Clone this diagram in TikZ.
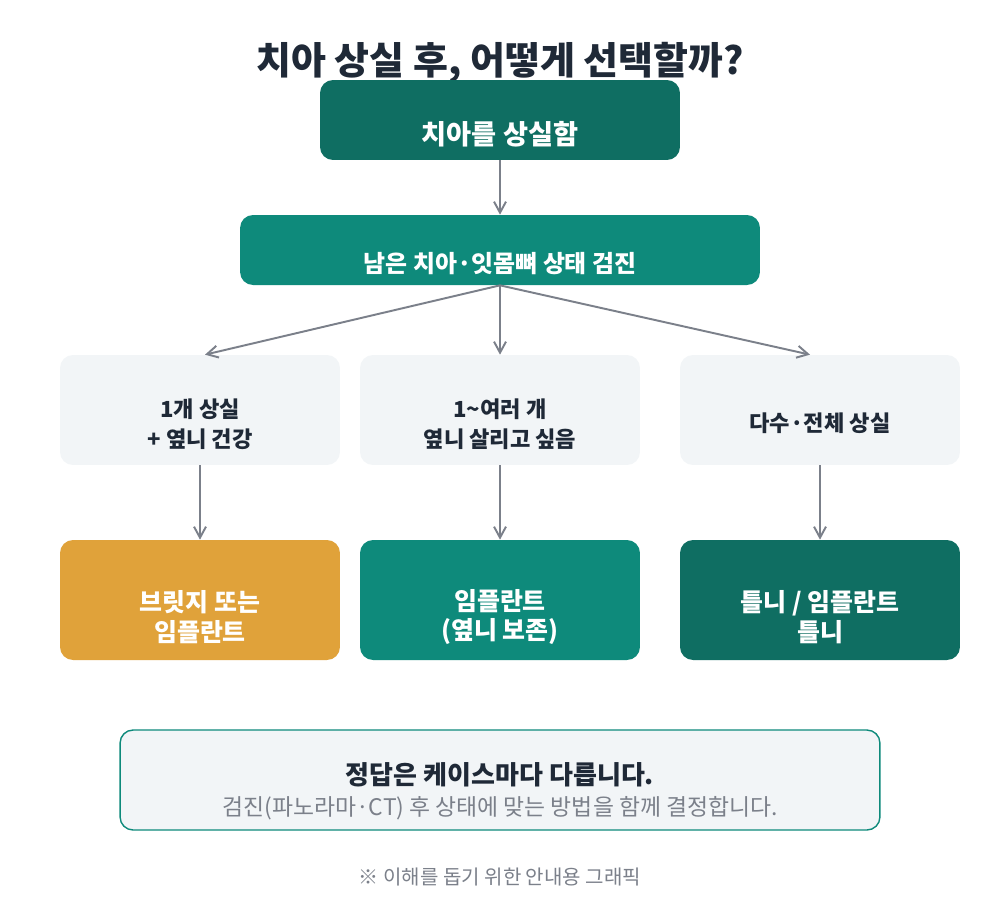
\documentclass[tikz,border=0pt]{standalone}
\usepackage{fontspec}
\setmainfont{Noto Sans CJK KR}
\usepackage{xcolor}
\usetikzlibrary{arrows.meta,positioning}
\definecolor{txdark}{HTML}{1F2937}
\definecolor{txmuted}{HTML}{7B808A}
\definecolor{tkdeep}{HTML}{0F6E62}
\definecolor{tkmain}{HTML}{0E8A7B}
\definecolor{tkgold}{HTML}{E0A23A}
\definecolor{tksoft}{HTML}{F2F5F7}
\definecolor{tkline}{HTML}{7B808A}

\begin{document}
\begin{tikzpicture}[
  x=0.02cm, y=-0.02cm,
  card/.style={rectangle, rounded corners=0.26cm, draw=none, inner sep=0pt},
  deepbox/.style={card, fill=tkdeep},
  mainbox/.style={card, fill=tkmain},
  goldbox/.style={card, fill=tkgold},
  softbox/.style={card, fill=tksoft},
  wtext/.style={text=white, font=\bfseries, align=center},
  dtext/.style={text=txdark, font=\bfseries, align=center},
  arr/.style={-{Straight Barb[length=2.2mm,width=2.4mm]}, draw=tkline, line width=1.1pt}
]
\useasboundingbox[fill=white] (0,0) rectangle (1000,920);

% title
\node[dtext, font=\fontsize{21.6}{26}\selectfont\bfseries] (title) at (500,63) {치아 상실 후, 어떻게 선택할까?};

% top of the tree
\node[deepbox, minimum width=7.2cm, minimum height=1.6cm] (lost) at (500,120) {};
\node[wtext, font=\fontsize{15.5}{18}\selectfont\bfseries] (lostT) at (500,134) {치아를 상실함};
\node[mainbox, minimum width=10.4cm, minimum height=1.4cm] (exam) at (500,250) {};
\node[wtext, font=\fontsize{13.6}{16}\selectfont\bfseries] (examT) at (500,264) {남은 치아·잇몸뼈 상태 검진};

% cases
\node[softbox, minimum width=5.6cm, minimum height=2.2cm] (one) at (200,410) {};
\node[softbox, minimum width=5.6cm, minimum height=2.2cm] (few) at (500,410) {};
\node[softbox, minimum width=5.6cm, minimum height=2.2cm] (many) at (820,410) {};
\node[dtext, font=\fontsize{12.6}{17}\selectfont\bfseries] (oneT) at (200,424) {1개 상실\\+ 옆니 건강};
\node[dtext, font=\fontsize{12.6}{17}\selectfont\bfseries] (fewT) at (500,424) {1\textasciitilde 여러 개\\옆니 살리고 싶음};
\node[dtext, font=\fontsize{12.6}{17}\selectfont\bfseries] (manyT) at (820,423) {다수·전체 상실};

% answers
\node[goldbox, minimum width=5.6cm, minimum height=2.4cm] (bridge) at (200,600) {};
\node[mainbox, minimum width=5.6cm, minimum height=2.4cm] (implant) at (500,600) {};
\node[deepbox, minimum width=5.6cm, minimum height=2.4cm] (denture) at (820,600) {};
\node[wtext, font=\fontsize{14.2}{17}\selectfont\bfseries] (bridgeT) at (200,617) {브릿지 또는\\임플란트};
\node[wtext, font=\fontsize{14.2}{17}\selectfont\bfseries] (implantT) at (500,617) {임플란트\\(옆니 보존)};
\node[wtext, font=\fontsize{14.2}{17}\selectfont\bfseries] (dentureT) at (820,617) {틀니 / 임플란트\\틀니};

\draw[arr] (lost) -- (exam);
\draw[arr] (exam.south) -- ([xshift=0.1cm]one.north);
\draw[arr] (exam.south) -- (few.north);
\draw[arr] (exam.south) -- ([xshift=-0.2cm]many.north);
\draw[arr] (one) -- (bridge);
\draw[arr] (few) -- (implant);
\draw[arr] (many) -- (denture);

% closing note
\node[card, fill=tksoft, draw=tkmain, line width=0.8pt, minimum width=15.2cm, minimum height=2cm] (answer) at (500,780) {};
\node[dtext, font=\fontsize{14.8}{18}\selectfont\bfseries] (answerT) at (500,775) {정답은 케이스마다 다릅니다.};
\node[text=txmuted, font=\fontsize{13}{16}\selectfont] (answerS) at (500,808) {검진(파노라마·CT) 후 상태에 맞는 방법을 함께 결정합니다.};
\node[text=txmuted, font=\fontsize{11.4}{14}\selectfont] (foot) at (500,877) {※ 이해를 돕기 위한 안내용 그래픽};
\end{tikzpicture}
\end{document}
